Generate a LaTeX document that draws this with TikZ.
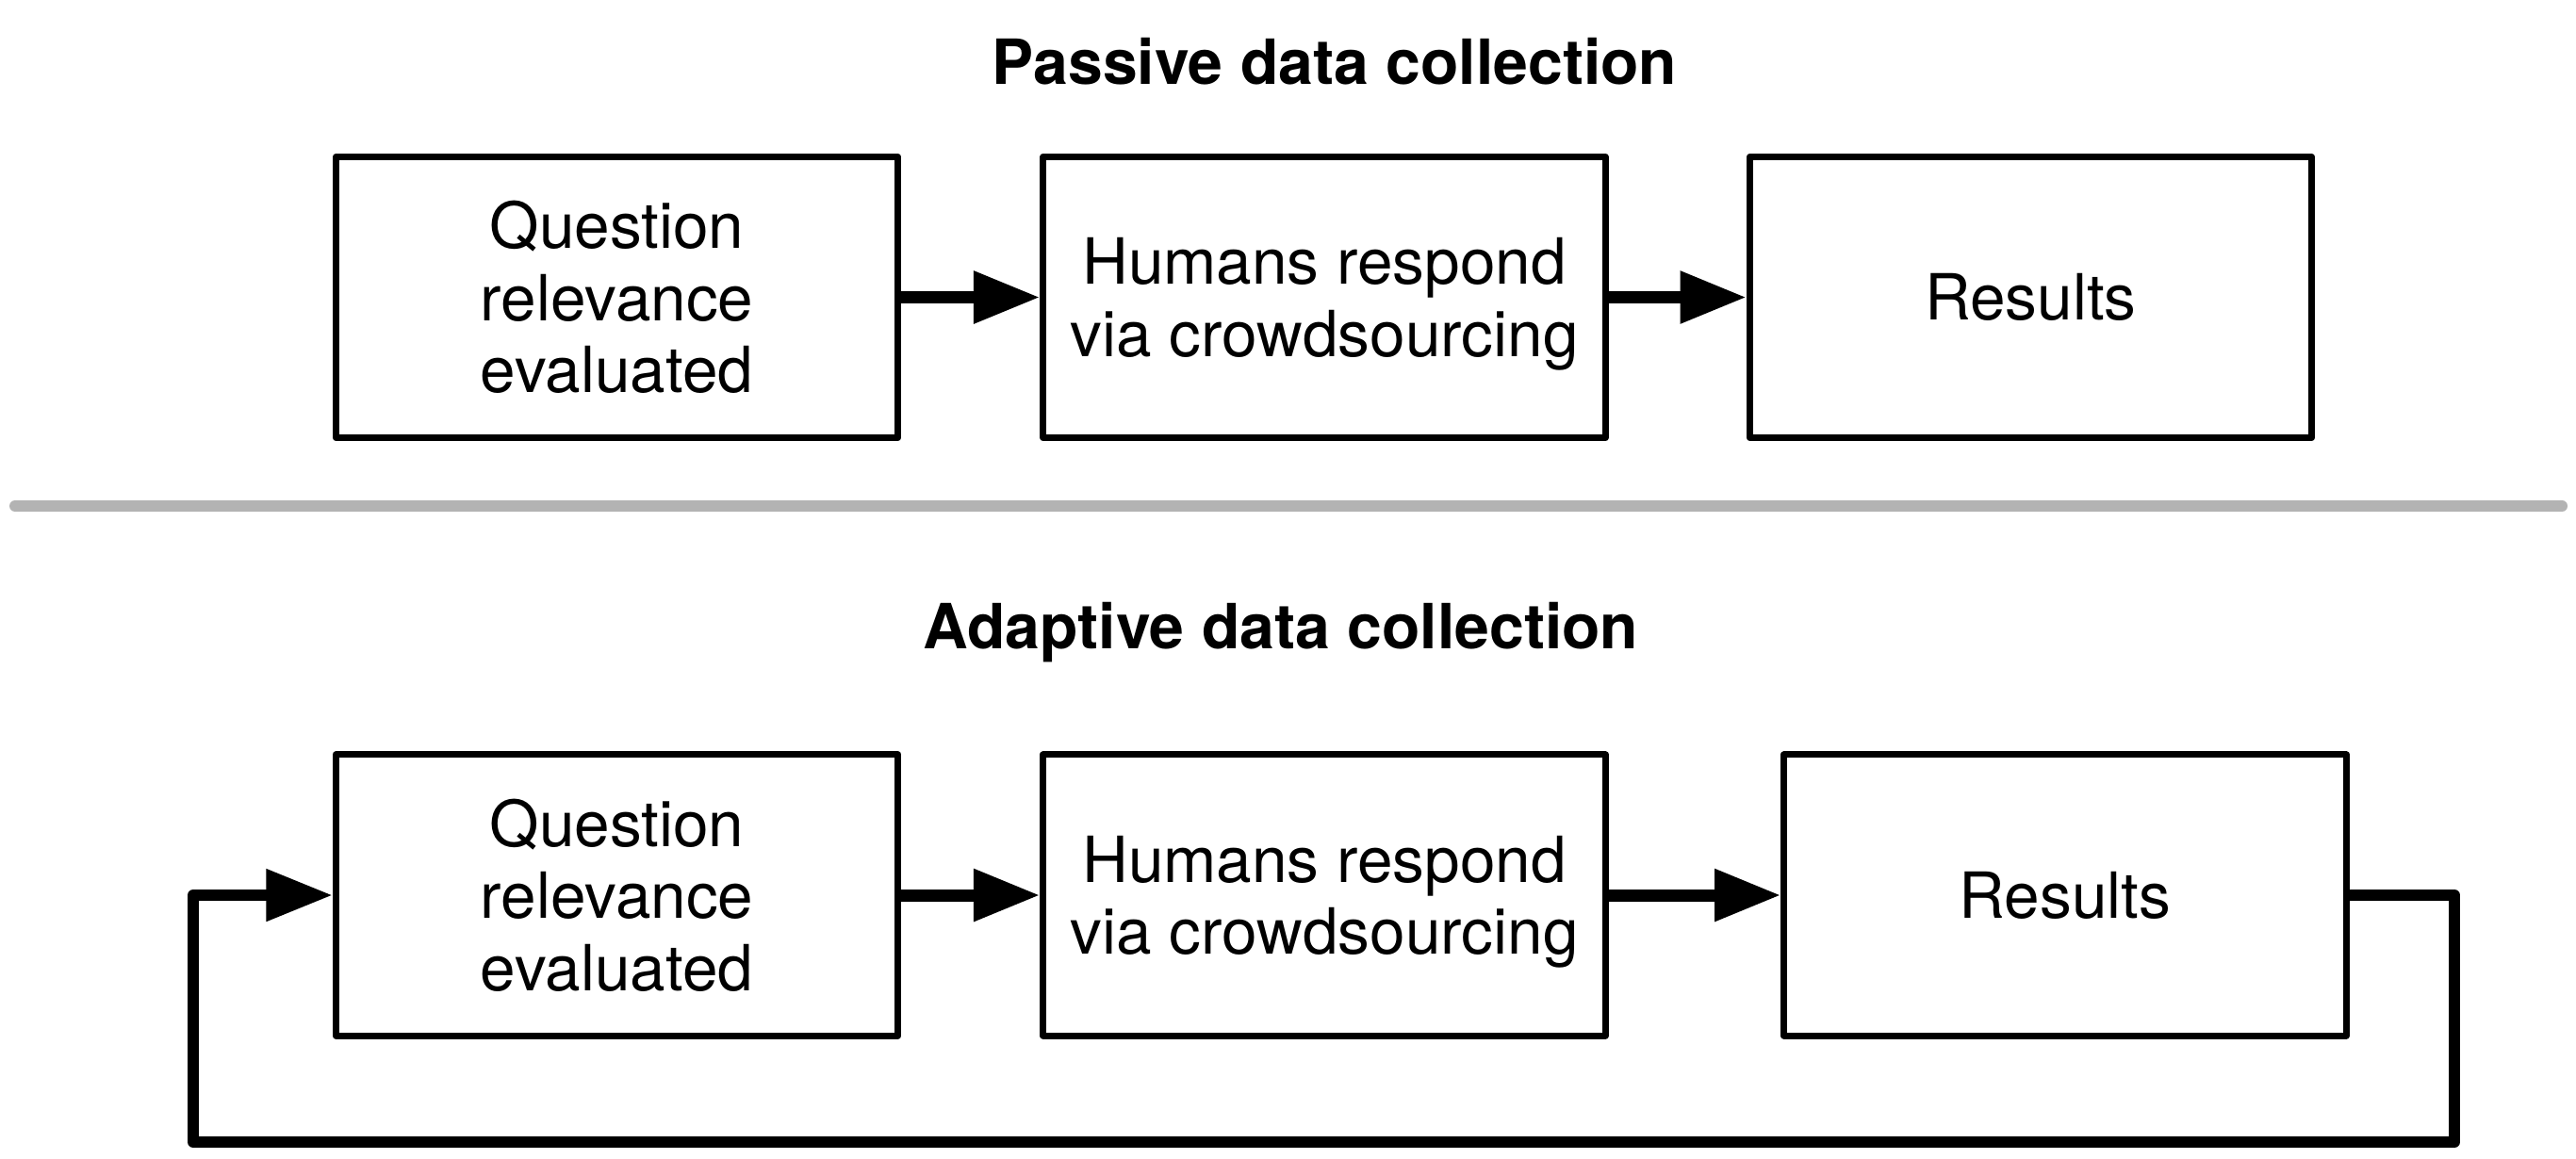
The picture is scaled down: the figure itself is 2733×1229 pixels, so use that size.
\documentclass[tikz,border=0pt]{standalone}
\usepackage{fontspec}
\setmainfont{TeX Gyre Heros}
\usetikzlibrary{arrows.meta}
\newcommand{\nodepth}[1]{\raisebox{0pt}[\height][0pt]{#1}}
\tikzset{
  flowbox/.style={draw=black, line width=2pt, line join=round, fill=white,
    minimum width=5.96cm, minimum height=2.98cm, align=center, inner sep=0pt,
    font=\fontsize{19.2pt}{21.8pt}\selectfont},
  heading/.style={anchor=base, inner sep=0pt, font=\fontsize{18.8pt}{22pt}\selectfont\bfseries},
  flowarrow/.style={line width=3.7pt, -{Triangle[length=20pt,width=15pt]}},
  loopline/.style={line width=3.4pt, line join=round, -{Triangle[length=20pt,width=15pt]}},
  separator/.style={line width=3.4pt, line cap=round, draw={rgb,255:red,179;green,179;blue,179}}
}
\begin{document}
\begin{tikzpicture}[x=0.01cm,y=-0.01cm]
\useasboundingbox (0,0) rectangle (2733,1229);
% titles
\node[heading] (t1) at (1416,89) {Passive data collection};
\node[heading] (t2) at (1359,688) {Adaptive data collection};
% separator
\coordinate (sepL) at (16,537);
\coordinate (sepR) at (2718,537);
\draw[separator] (sepL) -- (sepR);
% passive row
\node[flowbox] (p1) at (654.5,315.5) {Question\\relevance\\evaluated};
\node[flowbox] (p2) at (1405,315.5) {Humans respond\\\nodepth{via crowdsourcing}};
\node[flowbox] (p3) at (2154.5,315.5) {Results};
\draw[flowarrow] (p1.east) -- (p2.west);
\draw[flowarrow] (p2.east) -- (p3.west);
% adaptive row
\node[flowbox] (a1) at (654.5,950) {Question\\relevance\\evaluated};
\node[flowbox] (a2) at (1405,950) {Humans respond\\\nodepth{via crowdsourcing}};
\node[flowbox] (a3) at (2191,950) {Results};
\draw[flowarrow] (a1.east) -- (a2.west);
\draw[flowarrow] (a2.east) -- (a3.west);
% feedback loop
\coordinate (lr) at (2604,950);
\coordinate (lrb) at (2604,1212);
\coordinate (llb) at (205,1212);
\coordinate (ll) at (205,950);
\draw[loopline] (a3.east) -- (lr) -- (lrb) -- (llb) -- (ll) -- (a1.west);
\end{tikzpicture}
\end{document}
